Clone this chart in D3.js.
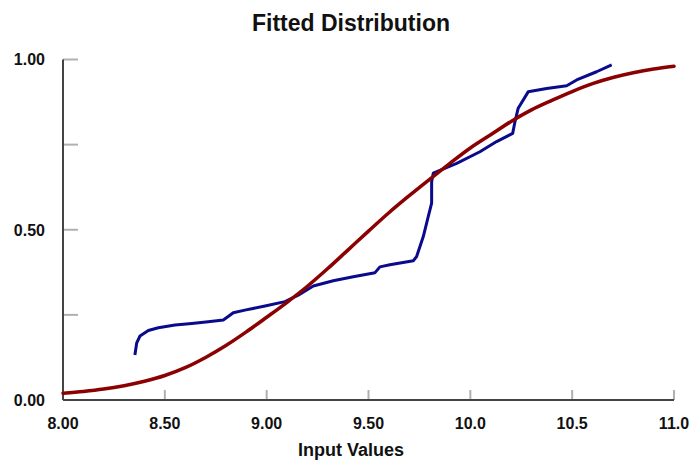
<!DOCTYPE html>
<html>
<head>
<meta charset="utf-8">
<script src="https://cdn.jsdelivr.net/npm/d3@7"></script>
<style>
  body { margin: 0; background: #fff; }
  text { font-family: "Liberation Sans", Arial, sans-serif; font-weight: bold; fill: #111; }
</style>
</head>
<body>
<svg id="chart" width="692" height="462"></svg>
<script>
// fitted curve (dark red)
const fitX = [8.0, 8.1, 8.2, 8.3, 8.4, 8.5, 8.6, 8.7, 8.8, 8.9, 9.0, 9.1, 9.2, 9.3, 9.4, 9.5,
  9.6, 9.7, 9.8, 9.9, 10.0, 10.1, 10.2, 10.3, 10.4, 10.5, 10.6, 10.7, 10.8, 10.9, 11.0];
const fitY = [0.02, 0.025, 0.032, 0.042, 0.055, 0.072, 0.095, 0.125, 0.16, 0.2, 0.243, 0.287,
  0.334, 0.386, 0.441, 0.496, 0.55, 0.6, 0.648, 0.695, 0.74, 0.779, 0.818, 0.852, 0.88,
  0.906, 0.929, 0.947, 0.961, 0.972, 0.98];

// input data cumulative curve (navy)
const inX = [8.353, 8.362, 8.378, 8.419, 8.468, 8.55, 8.632, 8.713, 8.787, 8.811, 8.836, 8.893,
  8.992, 9.09, 9.155, 9.229, 9.327, 9.425, 9.532, 9.556, 9.605, 9.72, 9.736, 9.769, 9.793,
  9.81, 9.81, 9.818, 9.933, 10.047, 10.129, 10.208, 10.219, 10.235, 10.284, 10.375, 10.473,
  10.522, 10.62, 10.694];
const inY = [0.132, 0.168, 0.188, 0.204, 0.212, 0.22, 0.225, 0.23, 0.235, 0.245, 0.256, 0.264,
  0.276, 0.289, 0.308, 0.335, 0.35, 0.362, 0.374, 0.391, 0.397, 0.409, 0.421, 0.48, 0.538,
  0.578, 0.641, 0.666, 0.695, 0.729, 0.759, 0.783, 0.817, 0.857, 0.905, 0.915, 0.923,
  0.94, 0.964, 0.984];

const xTicks = [8.0, 8.5, 9.0, 9.5, 10.0, 10.5, 11.0];
const xTickLabels = ["8.00", "8.50", "9.00", "9.50", "10.0", "10.5", "11.0"];
const yTicks = [0, 0.25, 0.5, 0.75, 1.0];
const yTickLabels = ["0.00", "", "0.50", "", "1.00"];

const svg = d3.select("#chart");
const x = d3.scaleLinear().domain([8, 11]).range([63, 674]);
const y = d3.scaleLinear().domain([0, 1]).range([400, 59.5]);

// tick marks point inward
svg.selectAll(".ytick").data(yTicks.slice(1)).enter().append("line")
  .attr("x1", x(8)).attr("x2", x(8) + 15)
  .attr("y1", d => y(d)).attr("y2", d => y(d))
  .attr("stroke", "#b0b0b0").attr("stroke-width", 2);
svg.selectAll(".xtick").data(xTicks.slice(1)).enter().append("line")
  .attr("x1", d => x(d)).attr("x2", d => x(d))
  .attr("y1", y(0)).attr("y2", y(0) - 10)
  .attr("stroke", "#b0b0b0").attr("stroke-width", 2);

// axis lines
svg.append("line").attr("x1", x(8)).attr("x2", x(8)).attr("y1", y(1)).attr("y2", y(0))
  .attr("stroke", "#444").attr("stroke-width", 2);
svg.append("line").attr("x1", x(8)).attr("x2", x(11)).attr("y1", y(0)).attr("y2", y(0))
  .attr("stroke", "#444").attr("stroke-width", 2);

// labels
svg.selectAll(".ylab").data(yTicks).enter().append("text")
  .attr("x", 45).attr("y", d => y(d)).attr("dy", "0.36em")
  .attr("text-anchor", "end").attr("font-size", 16)
  .text((d, i) => yTickLabels[i]);
svg.selectAll(".xlab").data(xTicks).enter().append("text")
  .attr("x", d => x(d)).attr("y", 429)
  .attr("text-anchor", "middle").attr("font-size", 16)
  .text((d, i) => xTickLabels[i]);

svg.append("text").attr("x", 351).attr("y", 31).attr("text-anchor", "middle")
  .attr("font-size", 23).text("Fitted Distribution");
svg.append("text").attr("x", 351).attr("y", 456).attr("text-anchor", "middle")
  .attr("font-size", 18).text("Input Values");

const line = d3.line().x(d => x(d[0])).y(d => y(d[1]));

svg.append("path").datum(d3.zip(inX, inY))
  .attr("d", line).attr("fill", "none")
  .attr("stroke", "#0a0a8c").attr("stroke-width", 3).attr("stroke-linejoin", "round");
svg.append("path").datum(d3.zip(fitX, fitY))
  .attr("d", d3.line().curve(d3.curveMonotoneX).x(d => x(d[0])).y(d => y(d[1])))
  .attr("fill", "none")
  .attr("stroke", "#8b0000").attr("stroke-width", 3.5).attr("stroke-linecap", "round");
</script>
</body>
</html>
